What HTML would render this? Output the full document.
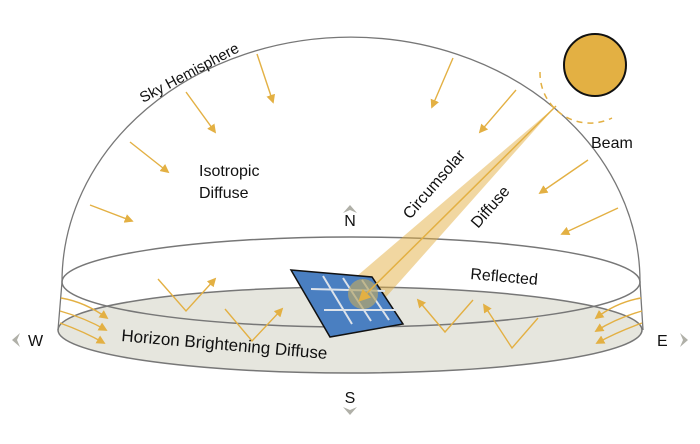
<!DOCTYPE html>
<html><head><meta charset="utf-8"><style>
html,body{margin:0;padding:0;background:#fff}
svg{display:block}
text{font-family:"Liberation Sans",sans-serif;fill:#111}
</style></head><body>
<svg width="700" height="444" viewBox="0 0 700 444" xmlns="http://www.w3.org/2000/svg">
<defs>
<marker id="a" viewBox="0 0 10 10" refX="8" refY="5" markerWidth="9" markerHeight="9" orient="auto" markerUnits="userSpaceOnUse"><path d="M0,0 L10,5 L0,10 z" fill="#E3B043"/></marker>
<marker id="b" viewBox="0 0 10 10" refX="8" refY="5" markerWidth="12" markerHeight="12" orient="auto" markerUnits="userSpaceOnUse"><path d="M0,0 L10,5 L0,10 z" fill="#E3B043"/></marker>
</defs>
<ellipse cx="350" cy="330" rx="292" ry="43" fill="#E6E6DE" stroke="#777" stroke-width="1.5"/>
<path d="M58,330 L62,282 A288,244 0 0 1 640,282 L643,330" fill="none" stroke="#777" stroke-width="1.3"/>
<ellipse cx="351" cy="282" rx="289" ry="45" fill="none" stroke="#777" stroke-width="1.5"/>
<circle cx="595" cy="65" r="31" fill="#E3B043" stroke="#111" stroke-width="2"/>
<path d="M540,72 A50,50 0 0 0 612,118" fill="none" stroke="#E3B043" stroke-width="1.5" stroke-dasharray="6,5"/>
<polygon points="556,106 378,306 350,282" fill="#E3B043" opacity="0.5"/>
<polygon points="291,270 372,277 403,324 330,337" fill="#4A7FC1" stroke="#111" stroke-width="1.5"/>
<g stroke="#DDE3EA" stroke-width="2">
<line x1="311" y1="289" x2="385" y2="291"/>
<line x1="324" y1="310" x2="397" y2="310"/>
<line x1="323" y1="276" x2="352" y2="324"/>
<line x1="343" y1="278" x2="371" y2="321"/>
<line x1="362" y1="280" x2="389" y2="320"/>
</g>
<circle cx="363" cy="294" r="15" fill="#B5A56A" opacity="0.7"/>
<line x1="556" y1="106" x2="360" y2="300" stroke="#E3B043" stroke-width="1.5" marker-end="url(#b)"/>
<g stroke="#E3B043" stroke-width="1.4" fill="none" marker-end="url(#a)">
<line x1="257" y1="54" x2="273" y2="102"/>
<line x1="186" y1="92" x2="215" y2="132"/>
<line x1="130" y1="142" x2="168" y2="172"/>
<line x1="90" y1="205" x2="132" y2="221"/>
<line x1="453" y1="58" x2="432" y2="107"/>
<line x1="516" y1="90" x2="480" y2="132"/>
<line x1="588" y1="160" x2="540" y2="193"/>
<line x1="618" y1="208" x2="562" y2="234"/>
<polyline points="158,279 186,311 215,279"/>
<polyline points="225,309 252,341 282,309"/>
<polyline points="473,300 445,332 418,300"/>
<polyline points="538,318 512,348 484,305"/>
<path d="M61,298 Q85,302 107,318"/>
<path d="M60,311 Q85,318 106,330"/>
<path d="M60,323 Q85,332 104,343"/>
<path d="M641,298 Q617,302 596,318"/>
<path d="M642,311 Q617,318 596,331"/>
<path d="M642,323 Q617,332 597,343"/>
</g>
<g fill="#B0B0A8">
<polygon points="343,213 350,205 357,213 350,210"/>
<polygon points="343,407 350,415 357,407 350,410"/>
<polygon points="20,333 12,340 20,347 17,340"/>
<polygon points="680,333 688,340 680,347 683,340"/>
</g>
<text x="350" y="226" font-size="16" text-anchor="middle">N</text>
<text x="350" y="403" font-size="16" text-anchor="middle">S</text>
<text x="28" y="346" font-size="16">W</text>
<text x="657" y="346" font-size="16">E</text>
<text x="0" y="0" font-size="15" transform="translate(143,103) rotate(-28)">Sky Hemisphere</text>
<text x="199" y="176" font-size="16">Isotropic</text>
<text x="199" y="198" font-size="16">Diffuse</text>
<text x="0" y="0" font-size="16" transform="translate(410,220) rotate(-49)">Circumsolar</text>
<text x="0" y="0" font-size="16" transform="translate(478,229) rotate(-49)">Diffuse</text>
<text x="591" y="148" font-size="16">Beam</text>
<text x="0" y="0" font-size="16" transform="translate(470,279) rotate(5)">Reflected</text>
<text x="0" y="0" font-size="17" transform="translate(121,341) rotate(5)">Horizon Brightening Diffuse</text>
</svg>
</body></html>
